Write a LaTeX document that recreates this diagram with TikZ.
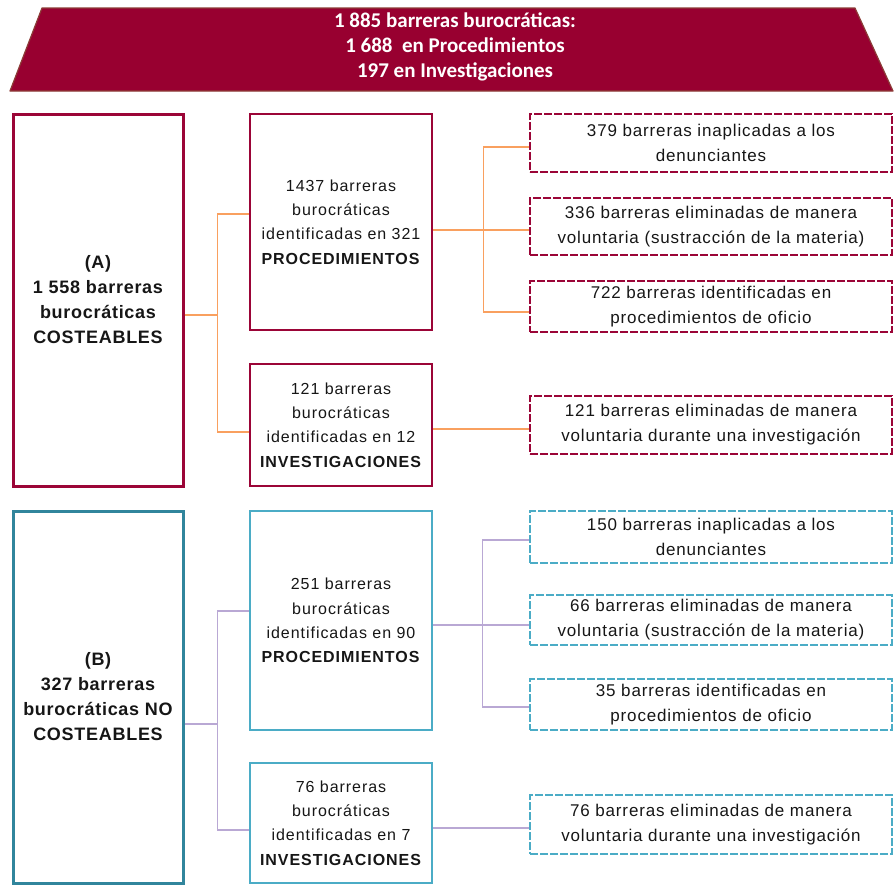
\documentclass[tikz,border=0pt]{standalone}
\usepackage{fontspec}
\setmainfont{Liberation Sans}
\newfontfamily\midfont{Liberation Sans}[LetterSpace=6]
\newfontfamily\dashfont{Liberation Sans}[LetterSpace=5]
\newfontfamily\leftfont{Liberation Sans}[LetterSpace=4]
\newfontfamily\bannerfont{Carlito}
\definecolor{crim}{RGB}{155,5,55}
\definecolor{bannerred}{RGB}{152,0,48}
\definecolor{bannerrim}{RGB}{140,60,55}
\definecolor{tealdark}{RGB}{49,133,156}
\definecolor{tealc}{RGB}{75,172,198}
\definecolor{orangeln}{RGB}{249,160,95}
\definecolor{lavln}{RGB}{185,168,212}
\definecolor{txt}{RGB}{22,22,22}
\tikzset{
  bigbox/.style={draw, line width=3pt, minimum width=170pt, minimum height=372pt, align=center, text=txt, inner sep=0pt, font=\leftfont\bfseries\fontsize{18}{25}\selectfont},
  midbox/.style={draw, line width=2.5pt, minimum width=182pt, align=center, text=txt, inner sep=0pt, font=\midfont\fontsize{16}{24.3}\selectfont},
  dbox/.style={draw, line width=2.7pt, dash pattern=on 8pt off 2pt, minimum width=362pt, align=center, text=txt, inner sep=0pt, font=\dashfont\fontsize{17}{25}\selectfont},
  connA/.style={draw=orangeln, line width=1.6pt},
  connB/.style={draw=lavln, line width=1.6pt},
}
\begin{document}
\begin{tikzpicture}[x=1pt,y=-1pt]
\useasboundingbox (0,0) rectangle (895,886);
% banner
\filldraw[fill=bannerred, draw=bannerrim, line width=1.2pt, line join=round] (42,8) -- (855,8) -- (893,91) -- (10,91) -- cycle;
\node[text=white, align=center, font=\bannerfont\bfseries\fontsize{21}{25}\selectfont] (banner) at (455,47) {1 885 barreras burocráticas:\\1 688~ en Procedimientos\\197 en Investigaciones};
% group A
\node[bigbox, draw=crim] (A) at (98,300) {(A)\\1 558 barreras\\burocráticas\\COSTEABLES};
\node[midbox, draw=crim, minimum height=216pt] (pA) at (341,222) {1437 barreras\\burocráticas\\identificadas en 321\\\textbf{PROCEDIMIENTOS}};
\node[midbox, draw=crim, minimum height=122pt] (iA) at (341,425) {121 barreras\\burocráticas\\identificadas en 12\\\textbf{INVESTIGACIONES}};
\node[dbox, draw=crim, minimum height=58pt] (dA1) at (711,143) {379 barreras inaplicadas a los\\denunciantes};
\node[dbox, draw=crim, minimum height=57pt] (dA2) at (711,226.5) {336 barreras eliminadas de manera\\voluntaria (sustracción de la materia)};
\node[dbox, draw=crim, minimum height=51pt] (dA3) at (711,306.5) {722 barreras identificadas en\\procedimientos de oficio};
\node[dbox, draw=crim, minimum height=58pt] (dA4) at (711,425) {121 barreras eliminadas de manera\\voluntaria durante una investigación};
% group B
\node[bigbox, draw=tealdark] (B) at (98,697) {(B)\\327 barreras\\burocráticas NO\\COSTEABLES};
\node[midbox, draw=tealc, minimum height=219pt] (pB) at (341,620.5) {251 barreras\\burocráticas\\identificadas en 90\\\textbf{PROCEDIMIENTOS}};
\node[midbox, draw=tealc, minimum height=120pt] (iB) at (341,823) {76 barreras\\burocráticas\\identificadas en 7\\\textbf{INVESTIGACIONES}};
\node[dbox, draw=tealc, minimum height=52pt] (dB1) at (711,537) {150 barreras inaplicadas a los\\denunciantes};
\node[dbox, draw=tealc, minimum height=50pt] (dB2) at (711,620) {66 barreras eliminadas de manera\\voluntaria (sustracción de la materia)};
\node[dbox, draw=tealc, minimum height=51pt] (dB3) at (711,704.5) {35 barreras identificadas en\\procedimientos de oficio};
\node[dbox, draw=tealc, minimum height=59pt] (dB4) at (711,824.5) {76 barreras eliminadas de manera\\voluntaria durante una investigación};
% connectors A
\draw[connA] ([yshift=-15pt]A.east) -- ++(33,0) coordinate (jA);
\draw[connA] ([yshift=8pt]pA.west) -| (jA) |- ([yshift=-7pt]iA.west);
\draw[connA] ([yshift=-8pt]pA.east) coordinate (sA) -- (sA -| dA2.west);
\draw[connA] ([yshift=-4pt]dA1.west) -- ++(-45,0) |- ([yshift=-5.5pt]dA3.west);
\draw[connA] ([yshift=-4pt]iA.east) coordinate (tA) -- (tA -| dA4.west);
% connectors B
\draw[connB] ([yshift=-27pt]B.east) -- ++(33,0) coordinate (jB);
\draw[connB] ([yshift=9.5pt]pB.west) -| (jB) |- ([yshift=-7pt]iB.west);
\draw[connB] ([yshift=-4.5pt]pB.east) coordinate (sB) -- (sB -| dB2.west);
\draw[connB] ([yshift=-3pt]dB1.west) -- ++(-46,0) |- ([yshift=-2.5pt]dB3.west);
\draw[connB] ([yshift=-5pt]iB.east) coordinate (tB) -- (tB -| dB4.west);
\end{tikzpicture}
\end{document}
